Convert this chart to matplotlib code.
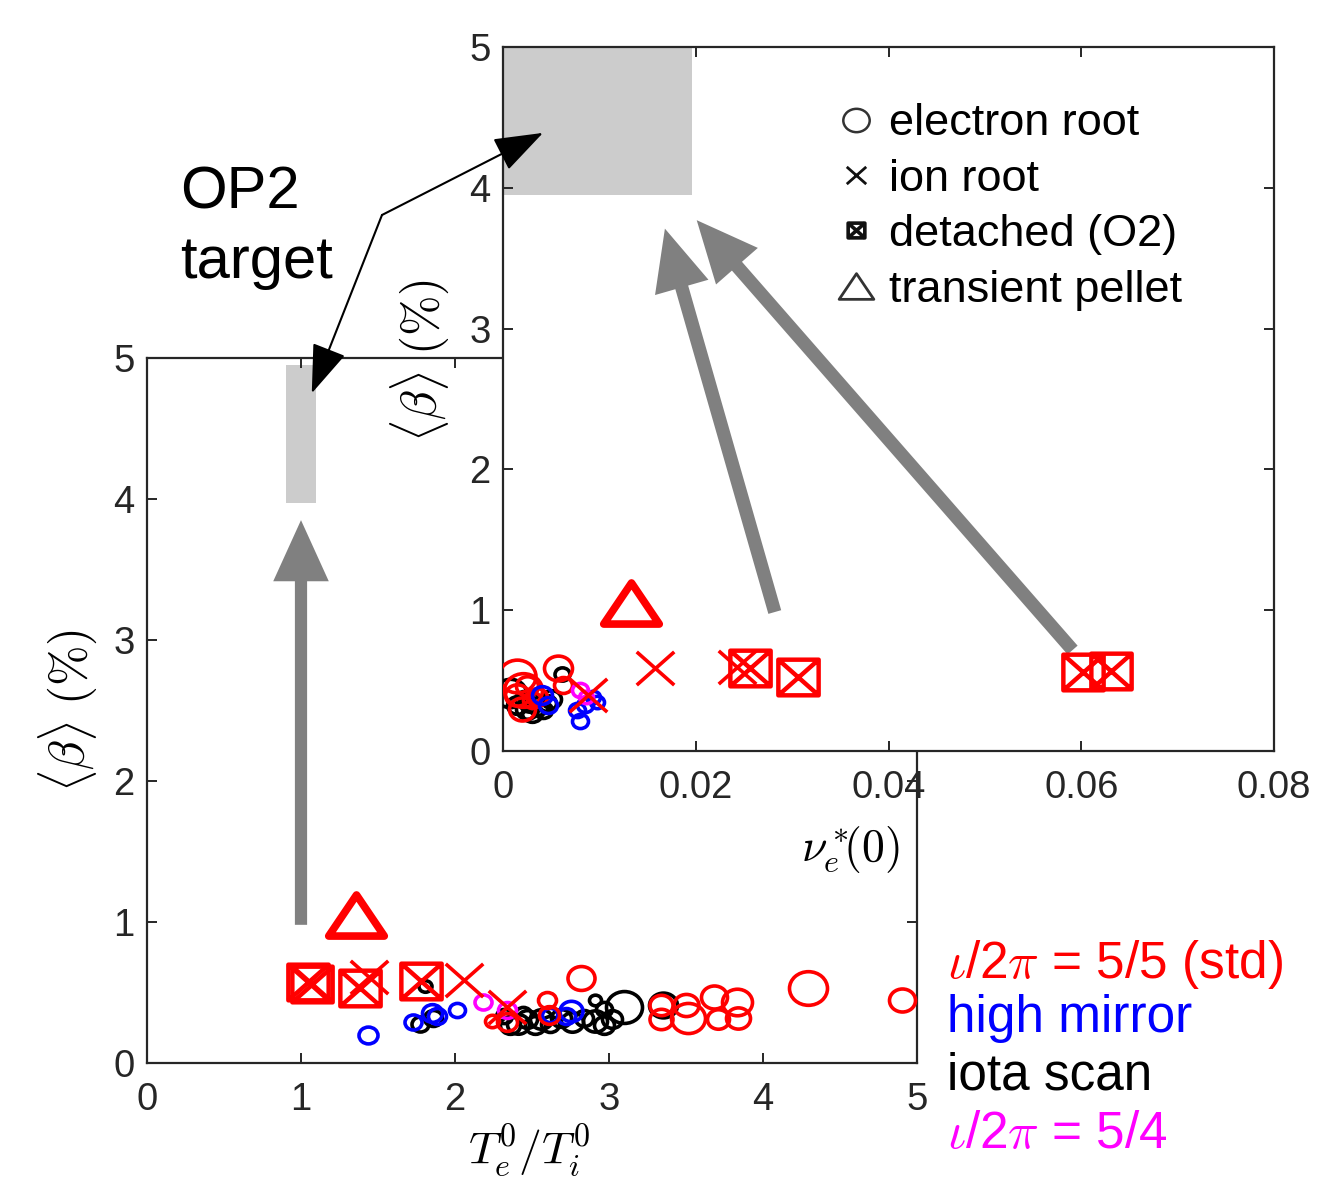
import numpy as np
import matplotlib
matplotlib.use('Agg')
import matplotlib.pyplot as plt
from matplotlib.path import Path
from matplotlib.lines import Line2D
from matplotlib.markers import MarkerStyle
from matplotlib.patches import Rectangle, ConnectionPatch

plt.rcParams['font.family'] = ['Liberation Sans', 'DejaVu Sans']
plt.rcParams['mathtext.fontset'] = 'cm'

# ---------------- data: main panel (Te/Ti vs beta) ----------------
main_red_x = [2.24, 2.34, 2.60, 2.61, 2.82, 3.34, 3.34, 3.50, 3.51, 3.68, 3.71, 3.83, 3.84, 4.29, 4.90]
main_red_y = [0.30, 0.29, 0.45, 0.34, 0.60, 0.41, 0.31, 0.41, 0.32, 0.47, 0.31, 0.43, 0.32, 0.53, 0.45]
main_red_d = [16, 22, 20, 22, 29, 25, 25, 27, 36, 28, 24, 32, 26, 40, 28]

main_blue_x = [1.435, 1.73, 1.85, 1.88, 2.01, 2.62, 2.72, 2.75]
main_blue_y = [0.199, 0.29, 0.355, 0.33, 0.376, 0.34, 0.33, 0.37]
main_blue_d = [21, 19, 22, 20, 18, 18, 20, 25]

main_mag_x = [2.18, 2.34]
main_mag_y = [0.43, 0.376]
main_mag_d = [19, 20]

main_blk_x = [1.805, 1.77, 1.86, 2.32, 2.36, 2.41, 2.47, 2.52, 2.56, 2.62, 2.69, 2.76, 2.84, 2.91,
              2.97, 2.91, 2.97, 3.02, 3.10, 3.35, 2.44]
main_blk_y = [0.546, 0.28, 0.32, 0.33, 0.27, 0.28, 0.31, 0.27, 0.31, 0.28, 0.32, 0.29, 0.32, 0.30,
              0.27, 0.45, 0.38, 0.31, 0.40, 0.41, 0.35]
main_blk_d = [15, 19, 20, 18, 22, 24, 22, 22, 24, 20, 22, 24, 20, 26, 22, 14, 18, 22, 38, 30, 18]

main_ion_x = [1.44, 2.06, 2.34]
main_ion_y = [0.61, 0.59, 0.40]
main_det_x = [1.045, 1.07, 1.38, 1.78]
main_det_y = [0.574, 0.56, 0.53, 0.58]
main_pel_x = [1.36]
main_pel_y = [1.05]

# ---------------- data: inset (nu*_e(0) vs beta) ----------------
ins_red_x = [0.00145, 0.0021, 0.0015, 0.0025, 0.0030, 0.0020, 0.0035, 0.0057, 0.0062]
ins_red_y = [0.53, 0.43, 0.40, 0.46, 0.36, 0.30, 0.38, 0.59, 0.47]
ins_red_d = [39, 40, 26, 24, 20, 28, 22, 30, 20]

ins_blk_x = [0.0007, 0.0061, 0.0025, 0.0030, 0.0036, 0.0041, 0.0046, 0.0050, 0.0028, 0.0015, 0.0022]
ins_blk_y = [0.41, 0.55, 0.30, 0.27, 0.32, 0.29, 0.34, 0.37, 0.35, 0.33, 0.37]
ins_blk_d = [34, 17, 24, 22, 22, 20, 20, 22, 24, 22, 20]

ins_blue_x = [0.0040, 0.0047, 0.0077, 0.0080, 0.0085, 0.0093, 0.0098]
ins_blue_y = [0.40, 0.33, 0.29, 0.21, 0.33, 0.38, 0.35]
ins_blue_d = [22, 20, 18, 18, 18, 16, 16]

ins_mag_x = [0.0080, 0.0086]
ins_mag_y = [0.43, 0.38]
ins_mag_d = [18, 16]

ins_ion_x = [0.0158, 0.0243, 0.0088]
ins_ion_y = [0.59, 0.60, 0.40]
ins_det_x = [0.0256, 0.0306, 0.0602, 0.0631]
ins_det_y = [0.59, 0.525, 0.56, 0.57]
ins_pel_x = [0.0133]
ins_pel_y = [1.05]

main_xticks = [0, 1, 2, 3, 4, 5]
main_yticks = [0, 1, 2, 3, 4, 5]
ins_xticks = [0, 0.02, 0.04, 0.06, 0.08]
ins_xticklabels = ['0', '0.02', '0.04', '0.06', '0.08']
ins_yticks = [0, 1, 2, 3, 4, 5]

legend_labels = ['electron root', 'ion root', 'detached (O2)', 'transient pellet']
group_labels = [r'$\iota$/2$\pi$ = 5/5 (std)', 'high mirror', 'iota scan', r'$\iota$/2$\pi$ = 5/4']
group_colors = ['#ff0000', '#0000ff', '#000000', '#ff00ff']

# ---------------- marker shapes (source image is ~1.13x wider than tall) ----------------
SX = 1.13
circ = Path.unit_circle()
ell_path = Path(circ.vertices * np.array([SX, 1.0]), circ.codes)
ELL = MarkerStyle(ell_path)
bx = [(-SX, -1), (SX, -1), (SX, 1), (-SX, 1), (-SX, -1), (-SX, -1), (SX, 1), (-SX, 1), (SX, -1)]
bc = [Path.MOVETO, Path.LINETO, Path.LINETO, Path.LINETO, Path.CLOSEPOLY,
      Path.MOVETO, Path.LINETO, Path.MOVETO, Path.LINETO]
BOXX = MarkerStyle(Path(bx, bc), joinstyle='miter')
xx = [(-SX, -1), (SX, 1), (-SX, 1), (SX, -1)]
xc = [Path.MOVETO, Path.LINETO, Path.MOVETO, Path.LINETO]
XM = MarkerStyle(Path(xx, xc))
tri = [(-0.5, -0.37), (0.5, -0.37), (0.0, 0.37), (-0.5, -0.37)]
tc = [Path.MOVETO, Path.LINETO, Path.LINETO, Path.CLOSEPOLY]
TRI = MarkerStyle(Path(tri, tc), joinstyle='miter')

PX = 100 / 72.0


def ms_of(d):
    return (d - 2) / PX


def circles(ax, x, y, d, color):
    for xi, yi, di in zip(x, y, d):
        ax.plot([xi], [yi], ls='none', marker=ELL, ms=ms_of(di), mfc='none',
                mec=color, mew=2.6, zorder=3)


W, H = 1317, 1187
fig = plt.figure(figsize=(W / 100, H / 100), dpi=100)

SPC = '#262626'


def style_axes(ax):
    for s in ax.spines.values():
        s.set_color(SPC)
        s.set_linewidth(1.6)
    ax.tick_params(direction='in', length=7, width=1.4, colors=SPC, labelsize=27.5,
                   top=True, right=True, labelcolor=SPC)
    ax.tick_params(axis='x', pad=14)
    ax.tick_params(axis='y', pad=9)


# ---------------- main axes ----------------
ax = fig.add_axes([147 / W, 1 - 1063 / H, 770 / W, 705 / H])
style_axes(ax)
ax.set_xlim(0, 5)
ax.set_ylim(0, 5)
ax.set_xticks(main_xticks)
ax.set_yticks(main_yticks)
ax.add_patch(Rectangle((0.9, 3.97), 0.2, 0.98, facecolor='#cccccc', edgecolor='none', zorder=1))
ax.annotate('', xy=(1.0, 3.85), xytext=(1.0, 0.98),
            arrowprops=dict(arrowstyle='simple,head_length=1.1,head_width=1.0,tail_width=0.22',
                            mutation_scale=40, facecolor='#808080', edgecolor='none',
                            shrinkA=0, shrinkB=0), zorder=2)
circles(ax, main_blk_x, main_blk_y, main_blk_d, '#000000')
circles(ax, main_blue_x, main_blue_y, main_blue_d, '#0000ff')
circles(ax, main_mag_x, main_mag_y, main_mag_d, '#ff00ff')
circles(ax, main_red_x, main_red_y, main_red_d, '#ff0000')
ax.plot(main_ion_x, main_ion_y, ls='none', marker=XM, ms=27, mec='#ff0000', mew=2.6, zorder=4)
ax.plot(main_det_x, main_det_y, ls='none', marker=BOXX, ms=29, mfc='none', mec='#ff0000', mew=3.2, zorder=4)
ax.plot(main_pel_x, main_pel_y, ls='none', marker=TRI, ms=40, mfc='none', mec='#ff0000', mew=5.5, zorder=4)
ax.set_xlabel(r'$T_e^0/T_i^0$', fontsize=33)
ax.xaxis.set_label_coords(0.497, -0.125)
ax.set_ylabel(r'$\langle\beta\rangle\ (\%)$', fontsize=35)
ax.yaxis.set_label_coords(-0.103, 0.5)
ax.xaxis.label.set_va('center')
ax.yaxis.label.set_va('center')

# ---------------- inset axes ----------------
ai = fig.add_axes([503 / W, 1 - 751 / H, 771 / W, 704 / H])
style_axes(ai)
ai.set_xlim(0, 0.08)
ai.set_ylim(0, 5)
ai.set_xticks(ins_xticks)
ai.set_xticklabels(ins_xticklabels)
ai.set_yticks(ins_yticks)
ai.add_patch(Rectangle((0, 3.95), 0.0196, 1.05, facecolor='#cccccc', edgecolor='none', zorder=1))
for (x0, y0, x1, y1) in [(0.0282, 0.987, 0.0168, 3.71), (0.0591, 0.717, 0.0201, 3.77)]:
    ai.annotate('', xy=(x1, y1), xytext=(x0, y0),
                arrowprops=dict(arrowstyle='simple,head_length=1.1,head_width=1.0,tail_width=0.24',
                                mutation_scale=40, facecolor='#808080', edgecolor='none',
                                shrinkA=0, shrinkB=0), zorder=2)
circles(ai, ins_blk_x, ins_blk_y, ins_blk_d, '#000000')
circles(ai, ins_red_x, ins_red_y, ins_red_d, '#ff0000')
circles(ai, ins_blue_x, ins_blue_y, ins_blue_d, '#0000ff')
circles(ai, ins_mag_x, ins_mag_y, ins_mag_d, '#ff00ff')
ai.plot(ins_ion_x, ins_ion_y, ls='none', marker=XM, ms=27, mec='#ff0000', mew=2.6, zorder=4)
ai.plot(ins_det_x, ins_det_y, ls='none', marker=BOXX, ms=29, mfc='none', mec='#ff0000', mew=3.2, zorder=4)
ai.plot(ins_pel_x, ins_pel_y, ls='none', marker=TRI, ms=40, mfc='none', mec='#ff0000', mew=5.5, zorder=4)
ai.set_xlabel(r'$\nu_e^*\!\!(0)$', fontsize=33)
ai.xaxis.set_label_coords(0.451, -0.14)
ai.set_ylabel(r'$\langle\beta\rangle\ (\%)$', fontsize=35)
ai.yaxis.set_label_coords(-0.108, 0.555)
ai.xaxis.label.set_va('center')
ai.yaxis.label.set_va('center')

handles = [
    Line2D([], [], ls='none', marker=ELL, ms=19, mfc='none', mec='#333333', mew=1.8),
    Line2D([], [], ls='none', marker=XM, ms=14, mec='#111111', mew=2.0),
    Line2D([], [], ls='none', marker=BOXX, ms=12, mfc='none', mec='#111111', mew=2.6),
    Line2D([], [], ls='none', marker=TRI, ms=25, mfc='none', mec='#333333', mew=2.0),
]
ai.legend(handles, legend_labels, loc='upper left', bbox_to_anchor=(0.433, 0.92),
          frameon=False, fontsize=32.5, borderpad=0, borderaxespad=0, handlelength=0.85,
          handletextpad=0.3, labelspacing=0.32)

# ---------------- annotations ----------------
fig.text(180 / W, 1 - 208 / H, 'OP2', fontsize=43, va='baseline', ha='left')
fig.text(180 / W, 1 - 278 / H, 'target', fontsize=43, va='baseline', ha='left')

corner = (382 / W, 1 - 215 / H)
for tip, tax in [((1.07, 4.75), ax), ((0.00415, 4.39), ai)]:
    cp = ConnectionPatch(xyA=corner, coordsA=fig.transFigure, xyB=tip, coordsB=tax.transData,
                         arrowstyle='-|>,head_length=1.4,head_width=0.5', mutation_scale=22,
                         color='black', lw=1.5, shrinkA=0, shrinkB=0)
    fig.add_artist(cp)

baselines = [978, 1032, 1089, 1148]
for lab, col, b in zip(group_labels, group_colors, baselines):
    fig.text(947 / W, 1 - b / H, lab, color=col, fontsize=37, va='baseline', ha='left')

fig.savefig('out.png', dpi=100)
